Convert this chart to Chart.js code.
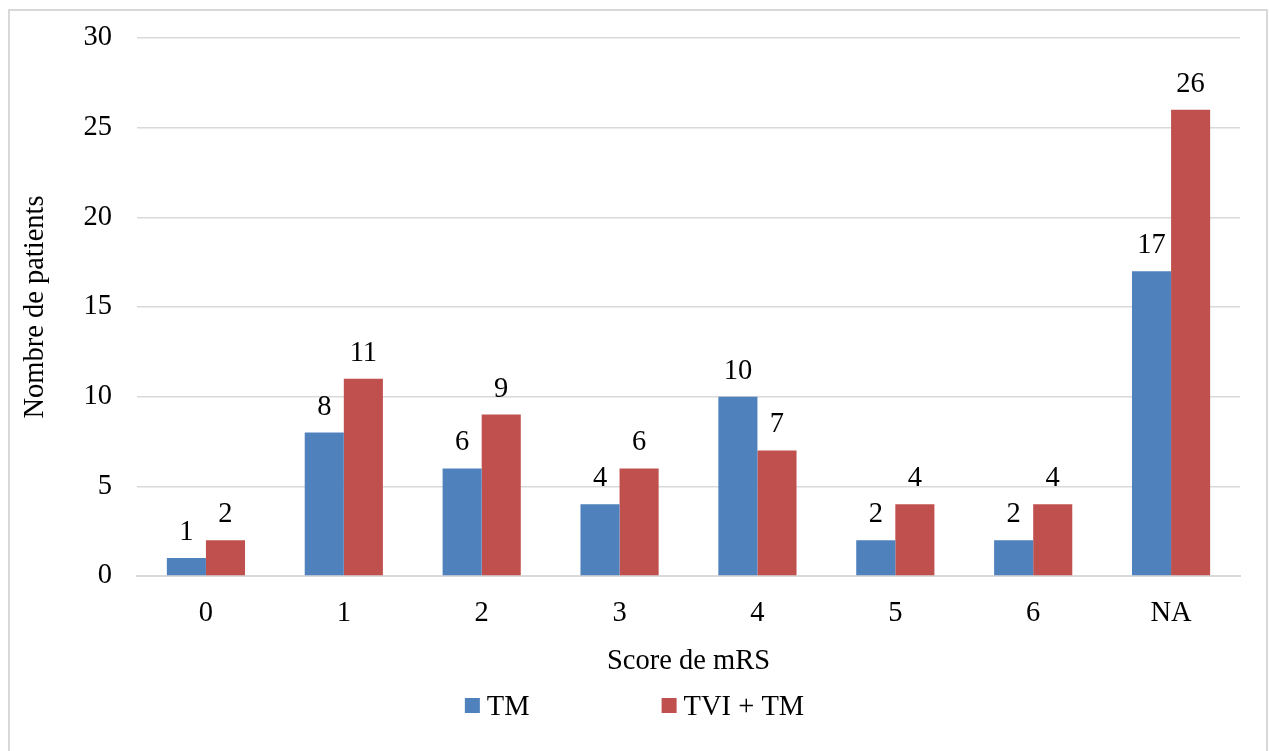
<!DOCTYPE html>
<html>
<head>
<meta charset="utf-8">
<script src="https://cdn.jsdelivr.net/npm/chart.js@4/dist/chart.umd.min.js"></script>
<style>
html,body{margin:0;padding:0;background:#fff;}
#wrap{position:absolute;left:0;top:0;width:1269px;height:751px;}
</style>
</head>
<body>
<div id="wrap"><canvas id="c" width="1269" height="751"></canvas></div>
<script>
const categories = ['0', '1', '2', '3', '4', '5', '6', 'NA'];
const seriesTM = [1, 8, 6, 4, 10, 2, 2, 17];
const seriesTVI = [2, 11, 9, 6, 7, 4, 4, 26];
const seriesNames = ['TM', 'TVI + TM'];
const yTicks = [0, 5, 10, 15, 20, 25, 30];

const FONT = '"Liberation Serif", "Times New Roman", serif';
const FS = 28.5;

const framePlugin = {
  id: 'frame',
  beforeDraw(chart) {
    const ctx = chart.ctx;
    ctx.save();
    ctx.fillStyle = '#fff';
    ctx.fillRect(0, 0, chart.width, chart.height);
    ctx.strokeStyle = '#d9d9d9';
    ctx.lineWidth = 2;
    ctx.strokeRect(9, 10, 1258, 770);
    ctx.restore();
  }
};

const labelPlugin = {
  id: 'valueLabels',
  afterDatasetsDraw(chart) {
    const ctx = chart.ctx;
    ctx.save();
    ctx.font = FS + 'px ' + FONT;
    ctx.fillStyle = '#000';
    ctx.textAlign = 'center';
    ctx.textBaseline = 'alphabetic';
    chart.data.datasets.forEach((ds, i) => {
      const meta = chart.getDatasetMeta(i);
      meta.data.forEach((bar, j) => {
        ctx.fillText(String(ds.data[j]), bar.x, bar.y - 18);
      });
    });
    ctx.restore();
  }
};

const legendPlugin = {
  id: 'customLegend',
  afterDraw(chart) {
    const ctx = chart.ctx;
    ctx.save();
    ctx.font = FS + 'px ' + FONT;
    ctx.textBaseline = 'alphabetic';
    ctx.textAlign = 'left';
    const box = 15, gapBox = 7, gapItems = 132;
    const items = chart.data.datasets.map(ds => ({
      text: ds.label, color: ds.backgroundColor,
      w: box + gapBox + ctx.measureText(ds.label).width
    }));
    const total = items.reduce((s, it) => s + it.w, 0) + gapItems * (items.length - 1);
    let x = chart.width / 2 - total / 2;
    const boxTop = 698, baseY = 715;
    items.forEach(it => {
      ctx.fillStyle = it.color;
      ctx.fillRect(x, boxTop, box, box);
      ctx.fillStyle = '#000';
      ctx.fillText(it.text, x + box + gapBox, baseY);
      x += it.w + gapItems;
    });
    ctx.restore();
  }
};

new Chart(document.getElementById('c'), {
  type: 'bar',
  data: {
    labels: categories,
    datasets: [
      { label: seriesNames[0], data: seriesTM, backgroundColor: '#4F81BD',
        categoryPercentage: 0.567, barPercentage: 1.0 },
      { label: seriesNames[1], data: seriesTVI, backgroundColor: '#C0504D',
        categoryPercentage: 0.567, barPercentage: 1.0 }
    ]
  },
  options: {
    responsive: false,
    animation: false,
    devicePixelRatio: 1,
    layout: { padding: { left: 0, right: 29, top: 38, bottom: 71 } },
    plugins: {
      legend: { display: false },
      tooltip: { enabled: false }
    },
    scales: {
      x: {
        grid: { display: false, drawTicks: false },
        border: { display: true, color: '#d9d9d9', width: 2 },
        ticks: { color: '#000', font: { family: FONT, size: FS }, padding: 20, maxRotation: 0 },
        title: { display: true, text: 'Score de mRS', color: '#000',
                 font: { family: FONT, size: FS }, padding: { top: 0, bottom: 1 } },
        afterFit(scale) { scale.height = 104; scale.paddingLeft = 0; scale.paddingRight = 0; }
      },
      y: {
        min: 0, max: 30,
        afterBuildTicks(scale) { scale.ticks = yTicks.map(v => ({ value: v })); },
        grid: { color: '#d9d9d9', lineWidth: 1.5, drawTicks: false },
        border: { display: false },
        ticks: { color: '#000', font: { family: FONT, size: FS }, padding: 25 },
        title: { display: true, text: 'Nombre de patients', color: '#000',
                 font: { family: FONT, size: FS }, padding: { top: 18, bottom: 0 } },
        afterFit(scale) { scale.width = 137; scale.paddingTop = 0; scale.paddingBottom = 0; }
      }
    }
  },
  plugins: [framePlugin, labelPlugin, legendPlugin]
});
</script>
</body>
</html>
